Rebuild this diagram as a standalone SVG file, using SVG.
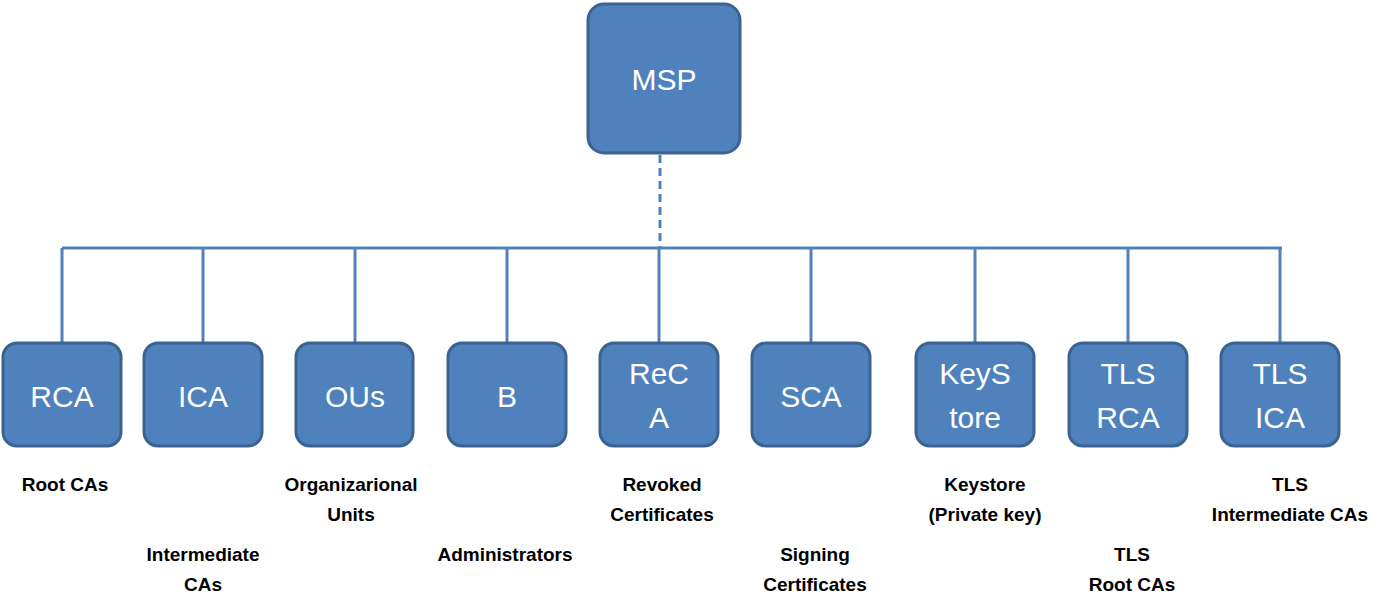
<svg xmlns="http://www.w3.org/2000/svg" width="1395" height="607" viewBox="0 0 1395 607">
<style>
.box{fill:#4F81BD;stroke:#3B6391;stroke-width:3}
.bt{font-family:"Liberation Sans",Arial,sans-serif;font-size:30px;fill:#fff;text-anchor:middle}
.lb{font-family:"Liberation Sans",Arial,sans-serif;font-size:19px;font-weight:bold;fill:#000;text-anchor:middle}
.ln{stroke:#4F81BD;stroke-width:3;fill:none}
</style>
<rect width="1395" height="607" fill="#fff"/>
<g id="connectors">
<line class="ln" x1="660" y1="155" x2="660" y2="248" stroke-dasharray="8,5"/>
<line class="ln" x1="62" y1="248" x2="1282" y2="248"/>
<line class="ln" x1="62" y1="248" x2="62" y2="343"/>
<line class="ln" x1="203" y1="248" x2="203" y2="343"/>
<line class="ln" x1="355" y1="248" x2="355" y2="343"/>
<line class="ln" x1="507" y1="248" x2="507" y2="343"/>
<line class="ln" x1="659" y1="248" x2="659" y2="343"/>
<line class="ln" x1="811" y1="248" x2="811" y2="343"/>
<line class="ln" x1="975" y1="248" x2="975" y2="343"/>
<line class="ln" x1="1128" y1="248" x2="1128" y2="343"/>
<line class="ln" x1="1280" y1="248" x2="1280" y2="343"/>
</g>
<g id="msp"><rect class="box" x="588" y="4" width="152" height="149" rx="16"/><text class="bt" x="664" y="90">MSP</text></g>
<g id="rca"><rect class="box" x="3" y="343" width="118" height="103" rx="14"/><text class="bt" x="62" y="407">RCA</text></g>
<g id="ica"><rect class="box" x="144" y="343" width="118" height="103" rx="14"/><text class="bt" x="203" y="407">ICA</text></g>
<g id="ous"><rect class="box" x="296" y="343" width="117" height="103" rx="14"/><text class="bt" x="355" y="407">OUs</text></g>
<g id="b"><rect class="box" x="448" y="343" width="118" height="103" rx="14"/><text class="bt" x="507" y="407">B</text></g>
<g id="reca"><rect class="box" x="600" y="343" width="118" height="103" rx="14"/><text class="bt" x="659" y="384">ReC</text><text class="bt" x="659" y="428">A</text></g>
<g id="sca"><rect class="box" x="752" y="343" width="118" height="103" rx="14"/><text class="bt" x="811" y="407">SCA</text></g>
<g id="keystore"><rect class="box" x="916" y="343" width="118" height="103" rx="14"/><text class="bt" x="975" y="384">KeyS</text><text class="bt" x="975" y="428">tore</text></g>
<g id="tlsrca"><rect class="box" x="1069" y="343" width="118" height="103" rx="14"/><text class="bt" x="1128" y="384">TLS</text><text class="bt" x="1128" y="428">RCA</text></g>
<g id="tlsica"><rect class="box" x="1221" y="343" width="118" height="103" rx="14"/><text class="bt" x="1280" y="384">TLS</text><text class="bt" x="1280" y="428">ICA</text></g>
<g id="labels">
<text class="lb" x="65" y="491">Root CAs</text>
<text class="lb" x="203" y="561">Intermediate</text><text class="lb" x="203" y="591">CAs</text>
<text class="lb" x="351" y="491">Organizarional</text><text class="lb" x="351" y="521">Units</text>
<text class="lb" x="505" y="561">Administrators</text>
<text class="lb" x="662" y="491">Revoked</text><text class="lb" x="662" y="521">Certificates</text>
<text class="lb" x="815" y="561">Signing</text><text class="lb" x="815" y="591">Certificates</text>
<text class="lb" x="985" y="491">Keystore</text><text class="lb" x="985" y="521">(Private key)</text>
<text class="lb" x="1132" y="561">TLS</text><text class="lb" x="1132" y="591">Root CAs</text>
<text class="lb" x="1290" y="491">TLS</text><text class="lb" x="1290" y="521">Intermediate CAs</text>
</g>
</svg>
